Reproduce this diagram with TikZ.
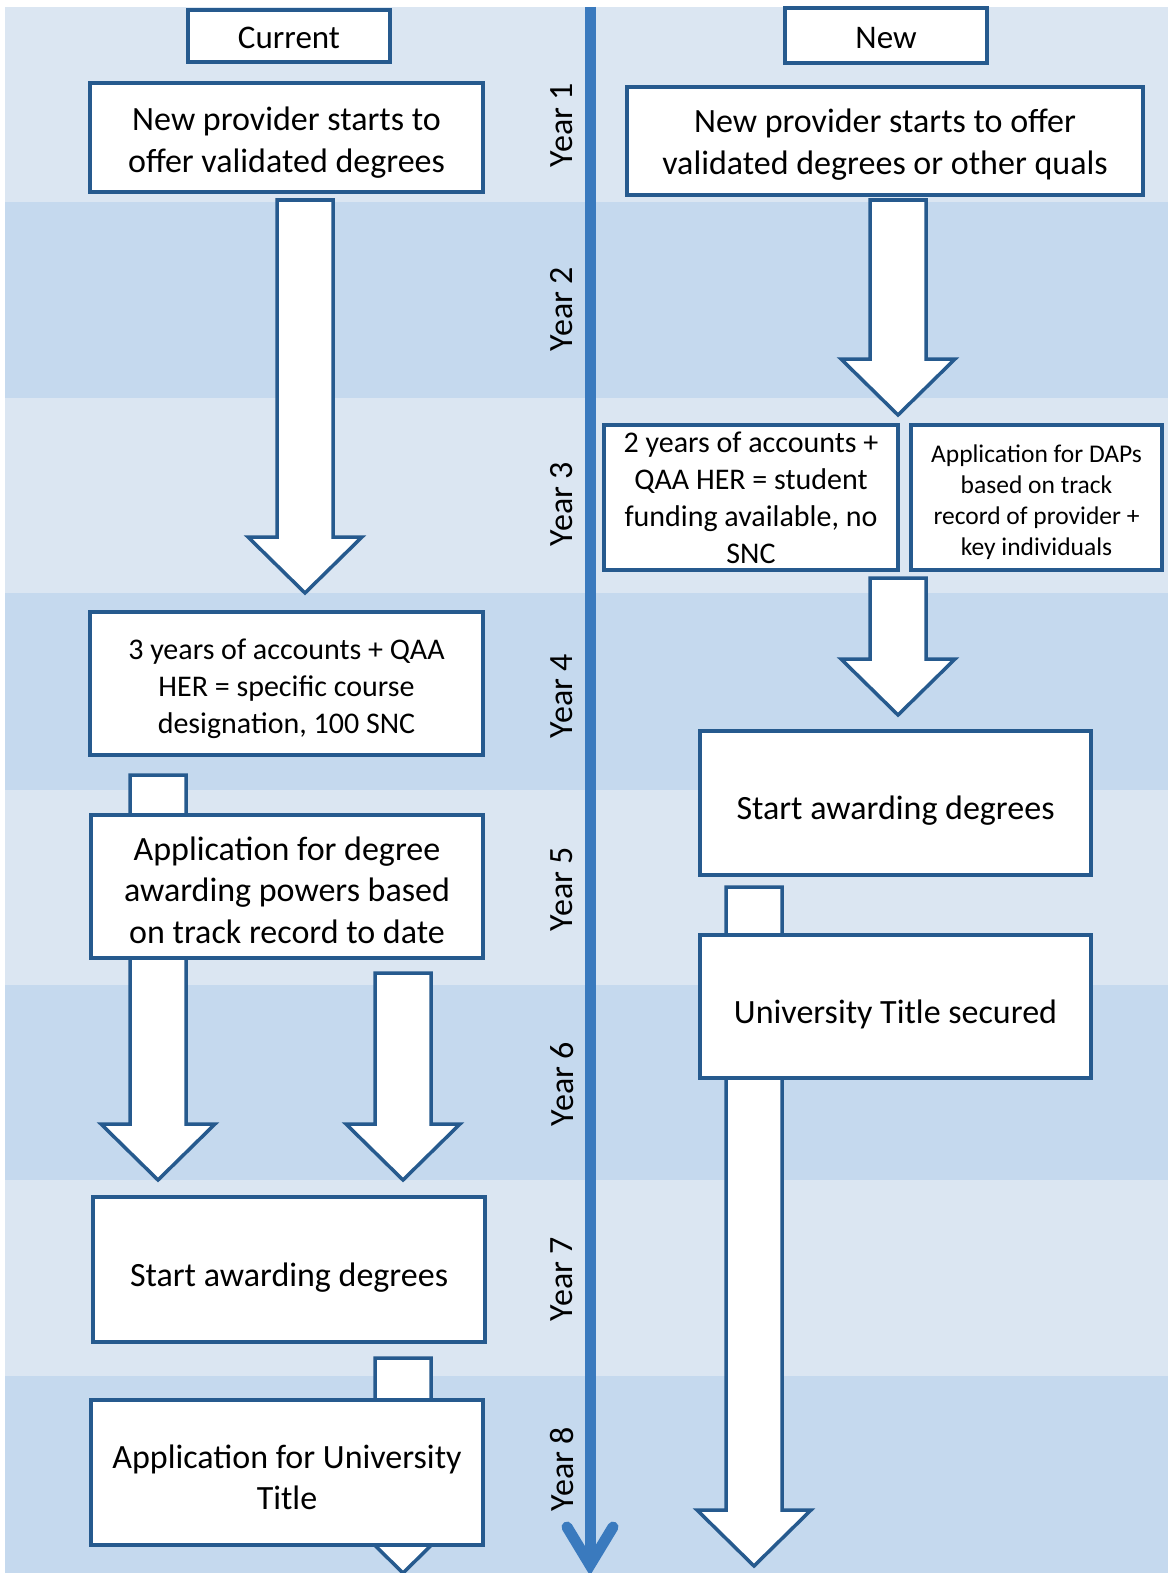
\documentclass[tikz,border=0pt]{standalone}
\usepackage{fontspec}
\setmainfont{Carlito}
\usetikzlibrary{calc}
\definecolor{bandlight}{RGB}{219,230,242}
\definecolor{banddark}{RGB}{197,217,238}
\definecolor{boxline}{RGB}{38,90,142}
\definecolor{timeline}{RGB}{58,122,190}
\tikzset{
  box/.style={draw=boxline, line width=3.5pt, fill=white, inner sep=0pt},
  txt/.style={inner sep=0pt, align=center, font=\fontsize{34}{41.5}\selectfont},
  smalltxt/.style={txt, font=\fontsize{30}{37}\selectfont},
  tinytxt/.style={txt, font=\fontsize{25.5}{31}\selectfont},
  headtxt/.style={txt, font=\fontsize{33}{40}\selectfont},
  barrow/.style={draw=boxline, line width=3.5pt, fill=white, line join=miter},
  yearlabel/.style={rotate=90, font=\fontsize{34}{41}\selectfont, inner sep=0pt},
}
\newcommand{\blockarrow}[2]{%
  \draw[barrow] let \p1=(#1), \p2=(#2) in
    (\x1-28pt,\y1) -- (\x1+28pt,\y1) -- (\x1+28pt,\y2+56pt) -- (\x1+57pt,\y2+56pt)
    -- (\x2,\y2) -- (\x1-57pt,\y2+56pt) -- (\x1-28pt,\y2+56pt) -- cycle;}
\begin{document}
\begin{tikzpicture}[x=1pt,y=-1pt]
\useasboundingbox (0,0) rectangle (1168,1573);
\fill[white] (0,0) rectangle (1168,1573);
% bands
\fill[bandlight] (5,7) rectangle (1168,202);
\fill[banddark] (5,202) rectangle (1168,398);
\fill[bandlight] (5,398) rectangle (1168,593);
\fill[banddark] (5,593) rectangle (1168,790);
\fill[bandlight] (5,790) rectangle (1168,985);
\fill[banddark] (5,985) rectangle (1168,1180);
\fill[bandlight] (5,1180) rectangle (1168,1376);
\fill[banddark] (5,1376) rectangle (1168,1573);
% year labels
\node[yearlabel] (y1) at (562,125) {Year 1};
\node[yearlabel] (y2) at (562,309) {Year 2};
\node[yearlabel] (y3) at (562,504) {Year 3};
\node[yearlabel] (y4) at (562,696) {Year 4};
\node[yearlabel] (y5) at (562,889) {Year 5};
\node[yearlabel] (y6) at (562,1084) {Year 6};
\node[yearlabel] (y7) at (562,1279) {Year 7};
\node[yearlabel] (y8) at (562,1469) {Year 8};
% timeline
\coordinate (tl0) at (590,7);
\coordinate (tl1) at (590,1565);
\coordinate (tlw1) at (567,1527);
\coordinate (tlw2) at (613,1527);
\draw[timeline, line width=11pt] (tl0) -- (tl1);
\draw[timeline, line width=11pt, line cap=round, line join=miter] (tlw1) -- (tl1) -- (tlw2);
% block arrows
\coordinate (a1s) at (305,200);  \coordinate (a1e) at (305,593);
\coordinate (a2s) at (898,200);  \coordinate (a2e) at (898,415);
\coordinate (a3s) at (898,578);  \coordinate (a3e) at (898,715);
\coordinate (a4s) at (158,775);  \coordinate (a4e) at (158,1180);
\coordinate (a5s) at (403,973);  \coordinate (a5e) at (403,1180);
\coordinate (a6s) at (403,1358); \coordinate (a6e) at (403,1573);
\coordinate (a7s) at (754,887);  \coordinate (a7e) at (754,1566);
\blockarrow{a1s}{a1e}
\blockarrow{a2s}{a2e}
\blockarrow{a3s}{a3e}
\blockarrow{a4s}{a4e}
\blockarrow{a5s}{a5e}
\blockarrow{a6s}{a6e}
\blockarrow{a7s}{a7e}
% boxes
\node[box, minimum width=202, minimum height=52] (cur) at (289,36) {};
\node[headtxt] (curt) at ([yshift=-2pt]cur.center) {Current};
\node[box, minimum width=202, minimum height=55] (new) at (886,35.5) {};
\node[headtxt] (newt) at ([yshift=-3pt]new.center) {New};
\node[box, minimum width=393, minimum height=109] (l1) at (286.5,137.5) {};
\node[txt] (l1t) at ([yshift=-5pt]l1.center) {New provider starts to\\offer validated degrees};
\node[box, minimum width=516, minimum height=108] (r1) at (885,141) {};
\node[txt] (r1t) at ([yshift=-3.5pt]r1.center) {New provider starts to offer\\validated degrees or other quals};
\node[box, minimum width=294, minimum height=145] (r3a) at (751,497.5) {};
\node[smalltxt] (r3at) at ([yshift=-0.5pt]r3a.center) {2 years of accounts +\\QAA HER = student\\funding available, no\\SNC};
\node[box, minimum width=251, minimum height=145] (r3b) at (1036.5,497.5) {};
\node[tinytxt] (r3bt) at ([yshift=-5pt]r3b.center) {Application for DAPs\\based on track\\record of provider +\\key individuals};
\node[box, minimum width=393, minimum height=143] (l4) at (286.5,683.5) {};
\node[smalltxt] (l4t) at ([yshift=-5.5pt]l4.center) {3 years of accounts + QAA\\HER = specific course\\designation, 100 SNC};
\node[box, minimum width=392, minimum height=143] (l5) at (287,886.5) {};
\node[txt] (l5t) at ([yshift=-3.5pt]l5.center) {Application for degree\\awarding powers based\\on track record to date};
\node[box, minimum width=391, minimum height=144] (r5) at (895.5,803) {};
\node[txt] (r5t) at ([yshift=-8pt]r5.center) {Start awarding degrees};
\node[box, minimum width=391, minimum height=143] (r6) at (895.5,1006.5) {};
\node[txt] (r6t) at ([yshift=-8pt]r6.center) {University Title secured};
\node[box, minimum width=392, minimum height=145] (l7) at (289,1269.5) {};
\node[txt] (l7t) at ([yshift=-8.5pt]l7.center) {Start awarding degrees};
\node[box, minimum width=392, minimum height=145] (l8) at (287,1472.5) {};
\node[txt] (l8t) at ([yshift=-5pt]l8.center) {Application for University\\Title};
\end{tikzpicture}
\end{document}
